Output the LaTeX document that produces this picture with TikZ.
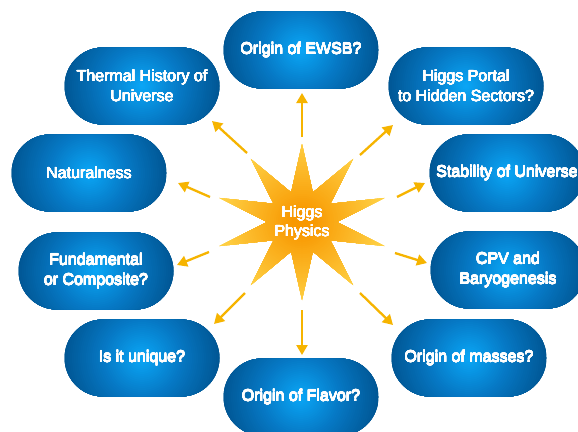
\documentclass[tikz,border=0pt]{standalone}
\usepackage{fontspec}
\setmainfont{Liberation Sans}
\usepackage{contour}
\contourlength{0.14pt}
\contournumber{16}
\usetikzlibrary{shapes.misc,arrows.meta}
\definecolor{pillin}{HTML}{0AA8F8}
\definecolor{pillmid}{HTML}{0678C4}
\definecolor{pillout}{HTML}{005592}
\definecolor{starin}{HTML}{F89800}
\definecolor{starout}{HTML}{FFD64C}
\definecolor{arrowc}{HTML}{F6B400}
\newcommand{\wt}[1]{\contour{white}{#1}}
\tikzset{
  pill/.style={rounded rectangle, minimum width=155pt, minimum height=77pt, inner sep=0pt,
    text=white, font=\fontsize{16}{20}\selectfont, align=center,
    path picture={
      \fill[pillout] (path picture bounding box.south west) rectangle (path picture bounding box.north east);
      \foreach \k in {40,39,...,21}{\pgfmathtruncatemacro\p{(\k-20)*5}
        \fill[pillout!\p!pillmid] (path picture bounding box.center) circle[radius={2*\k pt}];}
      \foreach \k in {20,19,...,1}{\pgfmathtruncatemacro\p{\k*5}
        \fill[pillmid!\p!pillin] (path picture bounding box.center) circle[radius={2*\k pt}];}
    }},
  arr/.style={draw=arrowc, line width=2.3pt, -{Triangle[length=10pt,width=11pt]}},
  centertext/.style={text=white, font=\fontsize{16}{19.5}\selectfont, align=center}
}
\begin{document}
\begin{tikzpicture}[x=1pt,y=-1pt]
\useasboundingbox (0,0) rectangle (578,431);
\fill[white] (0,0) rectangle (578,431);
% pills
\node[pill] (ewsb) at (301,50) {\wt{Origin of EWSB?}};
\node[pill] (portal) at (466,86) {\wt{Higgs Portal}\\\wt{to Hidden Sectors?}};
\node[pill] (thermal) at (142,86) {\wt{Thermal History of}\\\wt{Universe}};
\node[pill] (natural) at (89,173) {\wt{Naturalness}};
\node[pill] (stab) at (507,173) {\wt{Stability of Universe}};
\node[pill] (fund) at (96,271) {\wt{Fundamental}\\\wt{or Composite?}};
\node[pill] (cpv) at (508,270) {\wt{CPV and}\\\wt{Baryogenesis}};
\node[pill] (unique) at (142,358) {\wt{Is it unique?}};
\node[pill] (masses) at (469,358) {\wt{Origin of masses?}};
\node[pill] (flavor) at (301,397) {\wt{Origin of Flavor?}};
% star
\begin{scope}
\clip plot[variable=\k, samples at={0,1,...,19}]
  ({302+(87-52*mod(\k,2))*cos(90+18*\k)}, {222-(78-47*mod(\k,2))*sin(90+18*\k)}) -- cycle;
\foreach \k in {45,44,...,1}{\pgfmathtruncatemacro\p{max(0,min(100,(\k-5)*2.5))}
  \fill[starout!\p!starin] (302,222) circle[radius={2*\k pt}];}
\end{scope}
\node[centertext] (H) at (302,223) {\wt{Higgs}\\\wt{Physics}};
% arrow end points
\coordinate (t1) at (302,137); \coordinate (h1) at (302,93);
\coordinate (t2) at (247,153); \coordinate (h2) at (212,121);
\coordinate (t3) at (210,197); \coordinate (h3) at (178,183);
\coordinate (t4) at (209,252); \coordinate (h4) at (177,265);
\coordinate (t5) at (245,293); \coordinate (h5) at (214,324);
\coordinate (t6) at (302,310); \coordinate (h6) at (302,355);
\coordinate (t7) at (360,293); \coordinate (h7) at (393,325);
\coordinate (t8) at (395,253); \coordinate (h8) at (427,263);
\coordinate (t9) at (397,197); \coordinate (h9) at (425,183);
\coordinate (t10) at (360,155); \coordinate (h10) at (393,125);
\foreach \i in {1,...,10} {\draw[arr] (t\i) -- (h\i);}
\end{tikzpicture}
\end{document}
